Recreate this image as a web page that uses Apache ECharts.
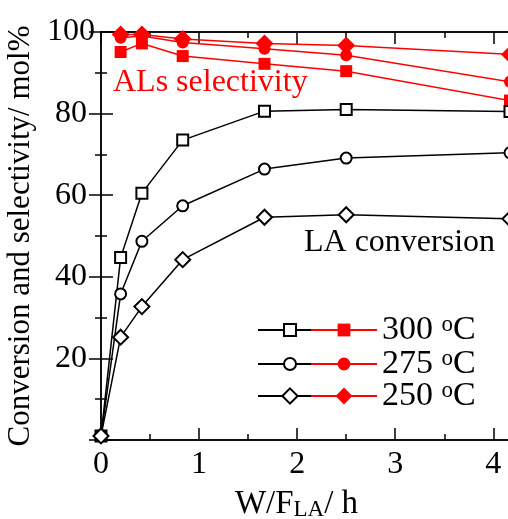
<!DOCTYPE html>
<html>
<head>
<meta charset="utf-8">
<script src="https://cdn.jsdelivr.net/npm/echarts@6/dist/echarts.min.js"></script>
<style>
html, body { margin: 0; padding: 0; background: #fff; }
#chart { width: 508px; height: 519px; }
</style>
</head>
<body>
<div id="chart"></div>
<script>
// W/F_LA (h)
var xConv = [0, 0.2, 0.417, 0.833, 1.667, 2.5, 4.17];
var xSel = [0.2, 0.417, 0.833, 1.667, 2.5, 4.17];

// LA conversion, mol%
var conv300 = [1, 44.7, 60.5, 73.5, 80.6, 81.0, 80.5];
var conv275 = [1, 35.8, 48.7, 57.4, 66.4, 69.1, 70.4];
var conv250 = [1, 25.2, 32.7, 44.2, 54.6, 55.2, 54.2];

// ALs selectivity, mol%
var sel300 = [95.1, 97.2, 94.1, 92.2, 90.4, 83.2];
var sel275 = [98.6, 99.0, 97.4, 95.9, 94.3, 87.8];
var sel250 = [99.4, 99.4, 98.3, 97.2, 96.7, 94.5];

var temps = ['300', '275', '250'];

var FONT = 'Liberation Serif';
var RED = '#ff0000';

function pairs(xs, ys) {
	var out = [];
	for (var i = 0; i < xs.length; i++) {
		out.push([xs[i], ys[i]]);
	}
	return out;
}

var convData = [conv300, conv275, conv250];
var selData = [sel300, sel275, sel250];
var openSym = ['emptyRect', 'emptyCircle', 'emptyDiamond'];
var fillSym = ['rect', 'circle', 'diamond'];
var openSize = [11, 11, 15];
var fillSize = [12, 12, 18];

var series = [];
for (var i = 0; i < temps.length; i++) {
	series.push({
		type: 'line',
		name: 'c' + temps[i],
		data: pairs(xConv, convData[i]),
		symbol: openSym[i],
		symbolSize: openSize[i],
		showAllSymbol: true,
		clip: false,
		z: 3,
		lineStyle: { color: '#000', width: 1.5 },
		itemStyle: { color: '#000', borderColor: '#000', borderWidth: 1.5 }
	});
}
for (var i = 0; i < temps.length; i++) {
	series.push({
		type: 'line',
		name: 's' + temps[i],
		data: pairs(xSel, selData[i]),
		symbol: fillSym[i],
		symbolSize: fillSize[i],
		showAllSymbol: true,
		clip: false,
		z: 2,
		lineStyle: { color: RED, width: 1.5 },
		itemStyle: { color: RED }
	});
}

var axisLine = { show: true, lineStyle: { color: '#000', width: 1.5 } };
var tickStyle = { color: '#000', width: 1.5 };

function xAxisDef(pos, step, len, labels) {
	return {
		type: 'value',
		position: pos,
		min: 0,
		max: 4.17,
		interval: step,
		axisLine: axisLine,
		axisTick: { show: true, inside: true, length: len, lineStyle: tickStyle },
		axisLabel: {
			show: labels,
			showMaxLabel: false,
			color: '#000',
			fontFamily: FONT,
			fontSize: 32,
			margin: 9
		},
		splitLine: { show: false }
	};
}

var xAxes = [
	xAxisDef('bottom', 1, 12, true),
	xAxisDef('bottom', 0.5, 6, false),
	xAxisDef('top', 1, 12, false),
	xAxisDef('top', 0.5, 6, false)
];
xAxes[0].name = 'W/F{sub|LA}/ h';
xAxes[0].nameLocation = 'middle';
xAxes[0].nameGap = 39;
xAxes[0].nameTextStyle = {
	color: '#000',
	fontFamily: FONT,
	fontSize: 33,
	lineHeight: 36,
	padding: [0, 18, 0, 0],
	rich: {
		sub: { fontFamily: FONT, fontSize: 23, lineHeight: 15, verticalAlign: 'bottom', color: '#000' }
	}
};

function yAxisDef(pos, labels) {
	return {
		type: 'value',
		position: pos,
		min: 0,
		max: 100,
		interval: 20,
		axisLine: axisLine,
		axisTick: { show: true, inside: true, length: 12, lineStyle: tickStyle },
		minorTick: { show: true, splitNumber: 2, length: 6, lineStyle: tickStyle },
		axisLabel: {
			show: labels,
			showMinLabel: false,
			color: '#000',
			fontFamily: FONT,
			fontSize: 32,
			align: 'center',
			margin: 30
		},
		splitLine: { show: false }
	};
}

var yAxes = [yAxisDef('left', true), yAxisDef('right', false)];
yAxes[0].name = 'Conversion and selectivity/ mol%';
yAxes[0].nameLocation = 'middle';
yAxes[0].nameGap = 64;
yAxes[0].nameTextStyle = { color: '#000', fontFamily: FONT, fontSize: 31 };

var legendText = {
	color: '#000',
	fontFamily: FONT,
	fontSize: 34,
	lineHeight: 33,
	rich: {
		deg: { fontFamily: FONT, fontSize: 23, lineHeight: 16, verticalAlign: 'top', color: '#000' }
	}
};

// one legend block per column and row group; diamonds need a bigger icon box
function legendBlock(names, left, top, width, height, withText) {
	return {
		orient: 'vertical',
		left: left,
		top: top,
		padding: 0,
		itemGap: 0,
		itemWidth: width,
		itemHeight: height,
		selectedMode: false,
		data: names,
		formatter: withText ? function(name) { return name.substring(1) + ' {deg|o}C'; } : function() { return ' '; },
		textStyle: legendText
	};
}

var legends = [
	legendBlock(['c300', 'c275'], 257, 313, 64, 15, false),
	legendBlock(['c250'], 257, 379, 64, 19, false),
	legendBlock(['s300', 's275'], 310, 313, 66, 16, true),
	legendBlock(['s250'], 310, 379, 66, 21, true)
];

var option = {
	animation: false,
	backgroundColor: '#fff',
	grid: { left: 101, top: 32, width: 409, bottom: 79, outerBoundsMode: 'none' },
	xAxis: xAxes,
	yAxis: yAxes,
	legend: legends,
	graphic: [{
		type: 'text',
		left: 113,
		top: 67,
		style: { text: 'ALs selectivity', fill: RED, font: '32px "Liberation Serif"' }
	}, {
		type: 'text',
		left: 304,
		top: 227,
		style: { text: 'LA conversion', fill: '#000', font: '32px "Liberation Serif"' }
	}],
	series: series
};

var chart = echarts.init(document.getElementById('chart'));
chart.setOption(option);
</script>
</body>
</html>
